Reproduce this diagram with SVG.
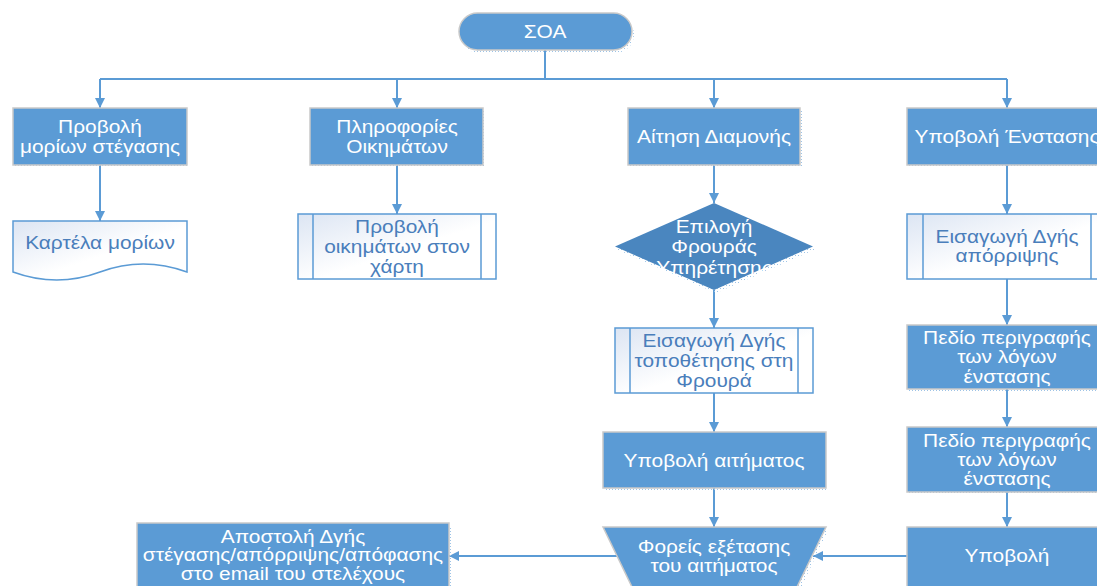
<svg xmlns="http://www.w3.org/2000/svg" width="1097" height="586" viewBox="0 0 1097 586">
  <defs>
    <linearGradient id="lite" x1="0" y1="0" x2="1" y2="1">
      <stop offset="0" stop-color="#DCE5F3"/>
      <stop offset="0.55" stop-color="#FFFFFF"/>
      <stop offset="1" stop-color="#FFFFFF"/>
    </linearGradient>
    <pattern id="dots" width="3" height="3" patternUnits="userSpaceOnUse">
      <rect width="1" height="1" fill="#9DC3E6"/>
    </pattern>
    <marker id="arrow" markerUnits="userSpaceOnUse" markerWidth="10" markerHeight="10" refX="10" refY="5" orient="auto">
      <path d="M0,0 L10,5 L0,10 Z" fill="#5B9BD5"/>
    </marker>
  </defs>
  <style>
    .lbl { font-family: "Liberation Sans", Arial, sans-serif; font-size: 18px; text-anchor: middle; }
    .w { fill: #FFFFFF; }
    .b { fill: #4A7EBB; }
    .box { fill: #5B9BD5; stroke: #C9C9C9; stroke-width: 1.5; }
    .dec { fill: #4A86BF; stroke: none; }
    .lite { fill: url(#lite); stroke: #5B9BD5; stroke-width: 1.5; }
    .shadow { fill: url(#dots); stroke: none; }
    .conn { fill: none; stroke: #5B9BD5; stroke-width: 2; }
  </style>
  <rect width="1097" height="586" fill="#FFFFFF"/>

  <!-- connectors -->
  <g id="connectors">
    <path class="conn" d="M545,50 V79"/>
    <path class="conn" d="M100,79 H1007"/>
    <path class="conn" d="M100,79 V108" marker-end="url(#arrow)"/>
    <path class="conn" d="M397,79 V108" marker-end="url(#arrow)"/>
    <path class="conn" d="M714,79 V108" marker-end="url(#arrow)"/>
    <path class="conn" d="M1007,79 V108" marker-end="url(#arrow)"/>
    <path class="conn" d="M100,165 V221" marker-end="url(#arrow)"/>
    <path class="conn" d="M397,165 V214" marker-end="url(#arrow)"/>
    <path class="conn" d="M714,165 V203" marker-end="url(#arrow)"/>
    <path class="conn" d="M714,290 V328" marker-end="url(#arrow)"/>
    <path class="conn" d="M714,393 V432" marker-end="url(#arrow)"/>
    <path class="conn" d="M714,488 V527" marker-end="url(#arrow)"/>
    <path class="conn" d="M1007,165 V214" marker-end="url(#arrow)"/>
    <path class="conn" d="M1007,279 V325" marker-end="url(#arrow)"/>
    <path class="conn" d="M1007,389 V427" marker-end="url(#arrow)"/>
    <path class="conn" d="M1007,492 V527" marker-end="url(#arrow)"/>
    <path class="conn" d="M907,556 H813" marker-end="url(#arrow)"/>
    <path class="conn" d="M617,556 H449" marker-end="url(#arrow)"/>
  </g>

  <!-- start terminator -->
  <g id="soa">
    <rect class="shadow" x="461" y="16" width="173" height="37" rx="18.5"/>
    <rect class="box" x="459" y="13" width="173" height="37" rx="18.5"/>
    <text class="lbl w" transform="translate(545 0) scale(1.16 1)" x="0" y="38">ΣΟΑ</text>
  </g>

  <!-- first level -->
  <g id="provoli-morion">
    <rect class="shadow" x="15" y="111" width="174" height="57"/>
    <rect class="box" x="13" y="108" width="174" height="57"/>
    <text class="lbl w" transform="translate(100 0) scale(1.16 1)"><tspan x="0" y="133">Προβολή</tspan><tspan x="0" y="153">μορίων στέγασης</tspan></text>
  </g>
  <g id="plirofories">
    <rect class="shadow" x="312" y="111" width="173" height="57"/>
    <rect class="box" x="310" y="108" width="173" height="57"/>
    <text class="lbl w" transform="translate(397 0) scale(1.16 1)"><tspan x="0" y="133">Πληροφορίες</tspan><tspan x="0" y="153">Οικημάτων</tspan></text>
  </g>
  <g id="aitisi">
    <rect class="shadow" x="630" y="111" width="172" height="57"/>
    <rect class="box" x="628" y="108" width="172" height="57"/>
    <text class="lbl w" transform="translate(714 0) scale(1.16 1)" x="0" y="143">Αίτηση Διαμονής</text>
  </g>
  <g id="enstasi">
    <rect class="shadow" x="909" y="111" width="200" height="57"/>
    <rect class="box" x="907" y="108" width="200" height="57"/>
    <text class="lbl w" transform="translate(1007 0) scale(1.16 1)" x="0" y="143">Υποβολή Ένστασης</text>
  </g>

  <!-- column 1 -->
  <g id="kartela">
    <path class="lite" d="M13,221 H187 V272 Q143,256 100,272 T13,272 Z"/>
    <text class="lbl b" transform="translate(100 0) scale(1.16 1)" x="0" y="249">Καρτέλα μορίων</text>
  </g>

  <!-- column 2 -->
  <g id="xartis">
    <rect class="lite" x="298" y="214" width="198" height="65"/>
    <path class="conn" style="stroke-width:1.5" d="M313,214 V279 M481,214 V279"/>
    <text class="lbl b" transform="translate(397 0) scale(1.16 1)"><tspan x="0" y="233">Προβολή</tspan><tspan x="0" y="253">οικημάτων στον</tspan><tspan x="0" y="273">χάρτη</tspan></text>
  </g>

  <!-- column 3 -->
  <g id="epilogi">
    <path class="shadow" d="M716,206 L815,249.5 L716,293 L617,249.5 Z"/>
    <path class="dec" d="M714,203 L813,246.5 L714,290 L615,246.5 Z"/>
    <text class="lbl w" transform="translate(714 0) scale(1.16 1)"><tspan x="0" y="233">Επιλογή</tspan><tspan x="0" y="253.5">Φρουράς</tspan><tspan x="0" y="274">Υπηρέτησης</tspan></text>
  </g>
  <g id="eisagogi-topothetisis">
    <rect class="lite" x="615" y="328" width="198" height="65"/>
    <path class="conn" style="stroke-width:1.5" d="M630,328 V393 M798,328 V393"/>
    <text class="lbl b" transform="translate(714 0) scale(1.16 1)"><tspan x="0" y="347">Εισαγωγή Δγής</tspan><tspan x="0" y="367">τοποθέτησης στη</tspan><tspan x="0" y="387">Φρουρά</tspan></text>
  </g>
  <g id="ypovoli-aitimatos">
    <rect class="shadow" x="605" y="435" width="223" height="56"/>
    <rect class="box" x="603" y="432" width="223" height="56"/>
    <text class="lbl w" transform="translate(714 0) scale(1.16 1)" x="0" y="467">Υποβολή αιτήματος</text>
  </g>
  <g id="foreis">
    <path class="shadow" d="M605,530 H828 L800,590 H634 Z"/>
    <path class="box" d="M603,527 H826 L797,587 H632 Z"/>
    <text class="lbl w" transform="translate(714 0) scale(1.16 1)"><tspan x="0" y="553">Φορείς εξέτασης</tspan><tspan x="0" y="572">του αιτήματος</tspan></text>
  </g>

  <!-- column 4 -->
  <g id="eisagogi-aporripsis">
    <rect class="lite" x="907" y="214" width="200" height="65"/>
    <path class="conn" style="stroke-width:1.5" d="M923,214 V279 M1091,214 V279"/>
    <text class="lbl b" transform="translate(1007 0) scale(1.16 1)"><tspan x="0" y="243">Εισαγωγή Δγής</tspan><tspan x="0" y="262">απόρριψης</tspan></text>
  </g>
  <g id="pedio-1">
    <rect class="shadow" x="909" y="328" width="200" height="64"/>
    <rect class="box" x="907" y="325" width="200" height="64"/>
    <text class="lbl w" transform="translate(1007 0) scale(1.16 1)"><tspan x="0" y="344">Πεδίο περιγραφής</tspan><tspan x="0" y="363.5">των λόγων</tspan><tspan x="0" y="383">ένστασης</tspan></text>
  </g>
  <g id="pedio-2">
    <rect class="shadow" x="909" y="430" width="200" height="65"/>
    <rect class="box" x="907" y="427" width="200" height="65"/>
    <text class="lbl w" transform="translate(1007 0) scale(1.16 1)"><tspan x="0" y="447">Πεδίο περιγραφής</tspan><tspan x="0" y="466">των λόγων</tspan><tspan x="0" y="485">ένστασης</tspan></text>
  </g>
  <g id="ypovoli">
    <rect class="shadow" x="909" y="530" width="200" height="60"/>
    <rect class="box" x="907" y="527" width="200" height="60"/>
    <text class="lbl w" transform="translate(1007 0) scale(1.16 1)" x="0" y="562">Υποβολή</text>
  </g>

  <!-- outcome -->
  <g id="apostoli">
    <rect class="shadow" x="139" y="526" width="312" height="66"/>
    <rect class="box" x="137" y="523" width="312" height="66"/>
    <text class="lbl w" transform="translate(293 0) scale(1.16 1)"><tspan x="0" y="543">Αποστολή Δγής</tspan><tspan x="0" y="561.5">στέγασης/απόρριψης/απόφασης</tspan><tspan x="0" y="580">στο email του στελέχους</tspan></text>
  </g>
</svg>
